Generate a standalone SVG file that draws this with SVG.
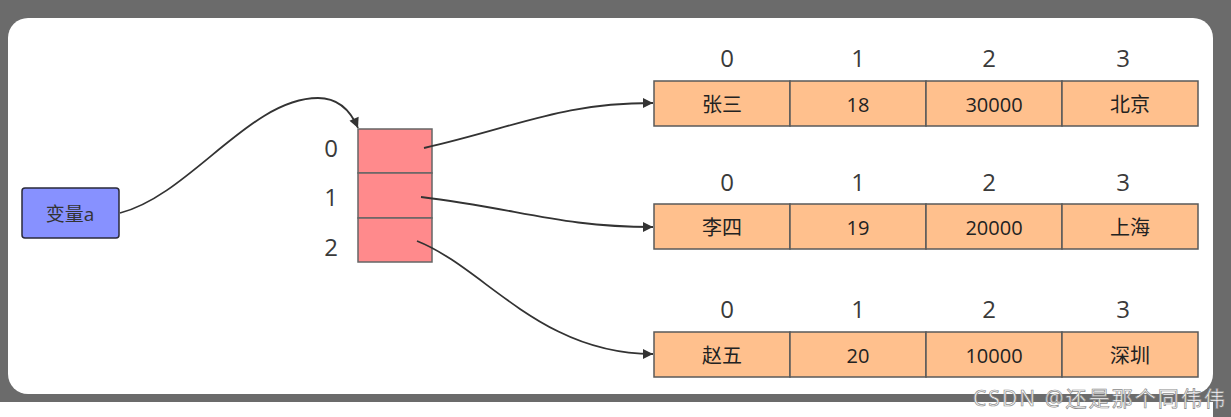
<svg xmlns="http://www.w3.org/2000/svg" width="1231" height="417" viewBox="0 0 1231 417">
<style>
text{font-family:"Open Sans","Noto Sans CJK SC",sans-serif;text-anchor:middle;dominant-baseline:central;fill:#333}
.idx{font-size:24px;fill:#3a3a3a}
.cell{fill:#ffc08d;stroke:#5a5a5a;stroke-width:1.5}
.slot{fill:#ff8a8c;stroke:#666;stroke-width:1.5}
.val{font-size:20px;fill:#222}
.conn{fill:none;stroke:#333;stroke-width:1.8;marker-end:url(#ah)}
</style>
<defs>
<marker id="ah" viewBox="0 0 10 10" refX="10" refY="5" markerWidth="13" markerHeight="10" markerUnits="userSpaceOnUse" orient="auto">
<path d="M0,0 L10,5 L0,10 Z" fill="#333"/>
</marker>
</defs>
<rect x="0" y="0" width="1231" height="417" fill="#fff"/>
<rect x="0" y="0" width="1231" height="402" fill="#6b6b6b"/>
<rect x="1213" y="400" width="18" height="17" fill="#6b6b6b"/>
<rect x="8" y="18" width="1205" height="376" rx="20" fill="#fff"/>
<g id="var-a">
<rect x="22" y="188" width="97" height="50" rx="3" fill="#8791ff" stroke="#2a2a3a" stroke-width="1.5"/>
<text x="70" y="214" style="font-size:19px">变量a</text>
</g>
<g id="outer-array">
<rect class="slot" x="358" y="129" width="74" height="44"/>
<rect class="slot" x="358" y="173" width="74" height="45"/>
<rect class="slot" x="358" y="218" width="74" height="44"/>
<text class="idx" x="331" y="147">0</text>
<text class="idx" x="331" y="196">1</text>
<text class="idx" x="331" y="246">2</text>
</g>
<g id="row0">
<text class="idx" x="727" y="57">0</text><text class="idx" x="858" y="57">1</text><text class="idx" x="989" y="57">2</text><text class="idx" x="1123" y="57">3</text>
<rect class="cell" x="654" y="81" width="136" height="45"/><rect class="cell" x="790" y="81" width="136" height="45"/><rect class="cell" x="926" y="81" width="136" height="45"/><rect class="cell" x="1062" y="81" width="136" height="45"/>
<text class="val" x="722" y="104">张三</text><text class="val" x="858" y="104">18</text><text class="val" x="994" y="104">30000</text><text class="val" x="1130" y="104">北京</text>
</g>
<g id="row1">
<text class="idx" x="727" y="181">0</text><text class="idx" x="858" y="181">1</text><text class="idx" x="989" y="181">2</text><text class="idx" x="1123" y="181">3</text>
<rect class="cell" x="654" y="204" width="136" height="45"/><rect class="cell" x="790" y="204" width="136" height="45"/><rect class="cell" x="926" y="204" width="136" height="45"/><rect class="cell" x="1062" y="204" width="136" height="45"/>
<text class="val" x="722" y="227">李四</text><text class="val" x="858" y="227">19</text><text class="val" x="994" y="227">20000</text><text class="val" x="1130" y="227">上海</text>
</g>
<g id="row2">
<text class="idx" x="727" y="308">0</text><text class="idx" x="858" y="308">1</text><text class="idx" x="989" y="308">2</text><text class="idx" x="1123" y="308">3</text>
<rect class="cell" x="654" y="332" width="136" height="45"/><rect class="cell" x="790" y="332" width="136" height="45"/><rect class="cell" x="926" y="332" width="136" height="45"/><rect class="cell" x="1062" y="332" width="136" height="45"/>
<text class="val" x="722" y="355">赵五</text><text class="val" x="858" y="355">20</text><text class="val" x="994" y="355">10000</text><text class="val" x="1130" y="355">深圳</text>
</g>
<g id="connectors">
<path class="conn" d="M120,213 C190,195 250,98 318,98 C340,98 352,114 358,128"/>
<path class="conn" d="M424,148 C520,126 560,103 653,103"/>
<path class="conn" d="M421,197 C520,209 560,227 653,227"/>
<path class="conn" d="M417,241 C485,268 540,354 653,354"/>
</g>
<text x="1099" y="398" textLength="252" style="font-size:21px;fill:#fff;stroke:#8a8a8a;stroke-width:0.7">CSDN @还是那个同伟伟</text>
</svg>
